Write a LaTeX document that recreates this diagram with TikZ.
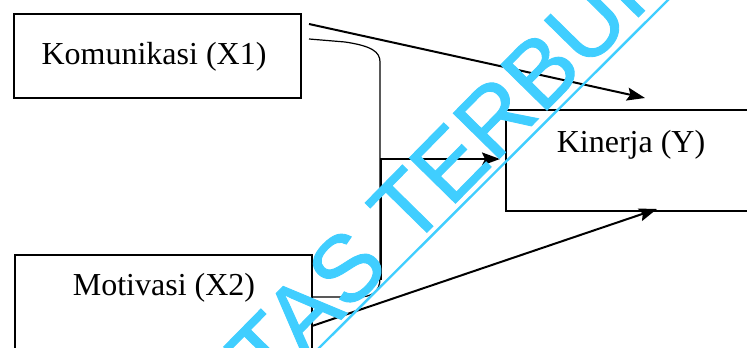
\documentclass[tikz,border=0pt]{standalone}
\usepackage{fontspec}
\setmainfont{Liberation Serif}
\newfontfamily\wmfont[FakeBold=1]{Liberation Sans}
\usetikzlibrary{arrows.meta,fit,positioning}
\definecolor{wmcyan}{RGB}{64,206,255}
\tikzset{
  box/.style={draw, line width=1pt, inner sep=0pt},
  varlabel/.style={font=\fontsize{16}{19}\selectfont, anchor=base, inner sep=0pt},
  arr/.style={line width=1pt, -{Stealth[length=9pt,width=6.5pt,inset=1.5pt]}},
  link/.style={line width=0.6pt},
  wm/.style={text=wmcyan, font=\wmfont\fontsize{47}{56}\selectfont, inner sep=0pt},
}
\begin{document}
\begin{tikzpicture}[x=0.5pt, y=-0.5pt]
  \useasboundingbox (0,0) rectangle (747,347);
  \clip (0,0) rectangle (747,347);

  % variable boxes
  \node[box, fit={(14,14) (301,98)}] (x1) {};
  \node[box, fit={(506,110) (790,211)}] (y) {};
  \node[box, fit={(15,255) (312,400)}] (x2) {};

  \node[varlabel] (x1txt) at (154,65) {Komunikasi (X1)};
  \node[varlabel] (ytxt) at (631,153) {Kinerja (Y)};
  \node[varlabel] (x2txt) at (164,295) {Motivasi (X2)};

  % X1 -> Y
  \coordinate (x1out) at (309,24);
  \coordinate (yin1) at (645,98);
  \draw[arr] (x1out) -- (yin1);

  % X1 -- X2
  \coordinate (x1link) at (309,39);
  \draw[link] (x1link) -- (345,42) .. controls (372,46) and (380,52) .. (380,62)
    -- (380,278) .. controls (380,292) and (372,297) .. (358,297) -- (x2.east |- 0,297);

  % X1, X2 -> Y
  \coordinate (joint) at (381,280);
  \coordinate (yin2) at (500,159);
  \draw[arr] (joint) |- (yin2);

  % X2 -> Y
  \coordinate (x2out) at (312,326);
  \coordinate (yin3) at (657,209);
  \draw[arr] (x2out) -- (yin3);

  % watermark
  \node[wm, rotate=45.5, anchor=base west] (wmtxt) at (268,394) {TAS TERBUKA};
  \draw[wmcyan, line width=1.2pt] (318,349) -- (669,-1);
\end{tikzpicture}
\end{document}
